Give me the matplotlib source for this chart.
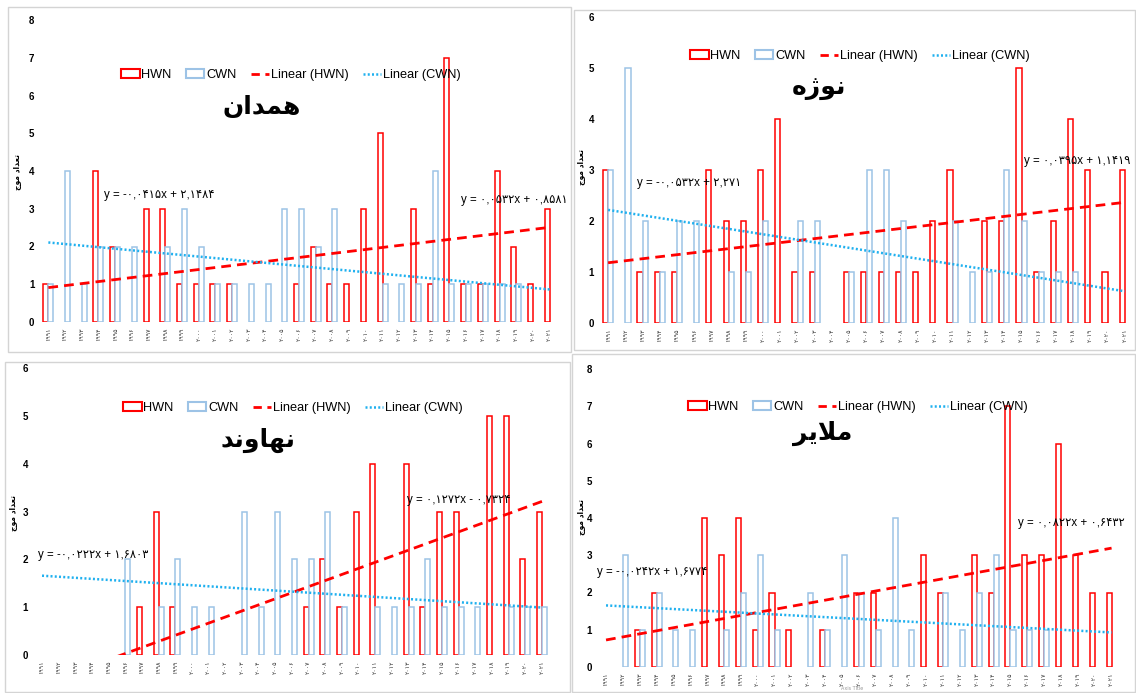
import numpy as np
import matplotlib
matplotlib.use("Agg")
import matplotlib.pyplot as plt
from matplotlib.patches import Rectangle, Patch
from matplotlib.lines import Line2D
from matplotlib import font_manager

# ── Data: yearly counts of heat waves (HWN) and cold waves (CWN) ──
years = list(range(1991, 2022))

hamedan_hwn = [1, 0, 0, 4, 2, 0, 3, 3, 1, 1, 1, 1, 0, 0, 0, 1, 2, 1, 1, 3, 5, 0, 3, 1, 7, 1, 1, 4, 2, 1, 3]
hamedan_cwn = [1, 4, 1, 2, 2, 2, 0, 2, 3, 2, 1, 1, 1, 1, 3, 3, 2, 3, 0, 0, 1, 1, 1, 4, 1, 1, 1, 1, 1, 0, 0]

nowzhe_hwn = [3, 0, 1, 1, 1, 0, 3, 2, 2, 3, 4, 1, 1, 0, 1, 1, 1, 1, 1, 2, 3, 0, 2, 2, 5, 1, 2, 4, 3, 1, 3]
nowzhe_cwn = [3, 5, 2, 1, 2, 2, 0, 1, 1, 2, 0, 2, 2, 0, 1, 3, 3, 2, 0, 0, 2, 1, 1, 3, 2, 1, 1, 1, 0, 0, 0]

nan = np.nan
nahavand_hwn = [nan] * 5 + [0, 1, 3, 1, 0, 0, 0, 0, 0, 0, 0, 1, 2, 1, 3, 4, 0, 4, 1, 3, 3, 0, 5, 5, 2, 3]
nahavand_cwn = [nan] * 5 + [2, 0, 1, 2, 1, 1, 0, 3, 1, 3, 2, 2, 3, 1, 0, 1, 1, 1, 2, 1, 1, 1, 0, 1, 1, 1]

malayer_hwn = [0, 0, 1, 2, 0, 0, 4, 3, 4, 1, 2, 1, 0, 1, 0, 2, 2, 0, 0, 3, 2, 0, 3, 2, 7, 3, 3, 6, 3, 2, 2]
malayer_cwn = [0, 3, 1, 2, 1, 1, 0, 1, 2, 3, 1, 0, 2, 1, 3, 2, 1, 4, 1, 0, 2, 1, 2, 3, 1, 1, 1, 0, 0, 0, 0]

# linear trend (slope, intercept) per station
hamedan_trend = {"HWN": (0.0532, 0.8581), "CWN": (-0.0415, 2.1484)}
nowzhe_trend = {"HWN": (0.0395, 1.1419), "CWN": (-0.0532, 2.271)}
nahavand_trend = {"HWN": (0.1272, -0.7324), "CWN": (-0.0222, 1.6803)}
malayer_trend = {"HWN": (0.0822, 0.6432), "CWN": (-0.0242, 1.6774)}

station_names = ["همدان", "نوژه", "نهاوند", "ملایر"]
ylabel_text = "تعداد موج"

# ── Persian text helpers (manual shaping, matplotlib has no bidi) ──
FA_DIGITS = str.maketrans("0123456789.", "۰۱۲۳۴۵۶۷۸۹,")

FORMS = {  # isolated, final, initial, medial
    "ا": ("\uFE8D", "\uFE8E", None, None),
    "د": ("\uFEA9", "\uFEAA", None, None),
    "ر": ("\uFEAD", "\uFEAE", None, None),
    "ژ": ("\uFB8A", "\uFB8B", None, None),
    "و": ("\uFEED", "\uFEEE", None, None),
    "ه": ("\uFEE9", "\uFEEA", "\uFEEB", "\uFEEC"),
    "م": ("\uFEE1", "\uFEE2", "\uFEE3", "\uFEE4"),
    "ن": ("\uFEE5", "\uFEE6", "\uFEE7", "\uFEE8"),
    "ل": ("\uFEDD", "\uFEDE", "\uFEDF", "\uFEE0"),
    "ی": ("\uFBFC", "\uFBFD", "\uFBFE", "\uFBFF"),
    "ت": ("\uFE95", "\uFE96", "\uFE97", "\uFE98"),
    "ع": ("\uFEC9", "\uFECA", "\uFECB", "\uFECC"),
    "ج": ("\uFE9D", "\uFE9E", "\uFE9F", "\uFEA0"),
}


def shape(text):
    out = []
    prev_joins = False
    i = 0
    while i < len(text):
        ch = text[i]
        if ch == "ل" and i + 1 < len(text) and text[i + 1] == "ا":
            out.append("\uFEFC" if prev_joins else "\uFEFB")
            prev_joins = False
            i += 2
            continue
        forms = FORMS.get(ch)
        if forms is None:
            out.append(ch)
            prev_joins = False
            i += 1
            continue
        nxt = text[i + 1] if i + 1 < len(text) else ""
        next_joins = forms[2] is not None and nxt in FORMS
        iso, fin, ini, med = forms
        if prev_joins and next_joins:
            g = med
        elif prev_joins:
            g = fin
        elif next_joins:
            g = ini
        else:
            g = iso
        out.append(g)
        prev_joins = next_joins
        i += 1
    return "".join(reversed(out))


def eq_label(m, b):
    sign = "+" if b >= 0 else "-"
    return f"y = {m:g}x {sign} {abs(b):g}".translate(FA_DIGITS)


installed = {f.name for f in font_manager.fontManager.ttflist}
base = "Liberation Sans Narrow" if "Liberation Sans Narrow" in installed else "Liberation Sans"
FAM = [base, "DejaVu Sans"]

RED = "#ff0000"
BLUE = "#9dc3e6"
CYAN = "#1fb0ef"

W, H = 1136, 693
fig = plt.figure(figsize=(W / 100, H / 100), dpi=100)

# panel layout in pixels: frame box, plot box (left, right, y0, ytop), text anchors
panels = [
    dict(hwn=hamedan_hwn, cwn=hamedan_cwn, trend=hamedan_trend, ymax=8,
         frame=(8, 7, 571, 352), plot=(40, 558, 322, 20),
         legend=(291, 75), title=(262, 107), ylab=(17, 172),
         eq_c=(104, 195), eq_h=(461, 200)),
    dict(hwn=nowzhe_hwn, cwn=nowzhe_cwn, trend=nowzhe_trend, ymax=6,
         frame=(574, 10, 1135, 350), plot=(599.5, 1133.5, 323, 17),
         legend=(860, 56), title=(819, 88), ylab=(581, 167),
         eq_c=(637, 183), eq_h=(1024, 161)),
    dict(hwn=nahavand_hwn, cwn=nahavand_cwn, trend=nahavand_trend, ymax=6,
         frame=(5, 362, 570, 692), plot=(33.7, 550.3, 655, 368),
         legend=(293, 408), title=(258, 440), ylab=(14, 513),
         eq_c=(38, 555), eq_h=(407, 500)),
    dict(hwn=malayer_hwn, cwn=malayer_cwn, trend=malayer_trend, ymax=8,
         frame=(572, 354, 1135, 692), plot=(597.6, 1120, 667, 369),
         legend=(858, 407), title=(823, 433), ylab=(581, 517),
         eq_c=(597, 572), eq_h=(1018, 523)),
]

x = np.arange(1, len(years) + 1)
bw = 0.3
year_labels = [str(y).translate(FA_DIGITS) for y in years]

for p, name in zip(panels, station_names):
    fx0, fy0, fx1, fy1 = p["frame"]
    fig.patches.append(Rectangle((fx0 / W, 1 - fy1 / H), (fx1 - fx0) / W, (fy1 - fy0) / H,
                                 transform=fig.transFigure, fill=False,
                                 edgecolor="#d4d4d4", linewidth=1.0))

    left, right, y0, ytop = p["plot"]
    ax = fig.add_axes([left / W, 1 - y0 / H, (right - left) / W, (y0 - ytop) / H])
    ax.patch.set_alpha(0)

    hwn = np.array(p["hwn"], dtype=float)
    cwn = np.array(p["cwn"], dtype=float)
    mh = np.nan_to_num(hwn) > 0
    mc = np.nan_to_num(cwn) > 0
    ax.bar(x[mh] - bw / 2, hwn[mh], bw, facecolor="white", edgecolor=RED,
           linewidth=1.1, zorder=2)
    ax.bar(x[mc] + bw / 2, cwn[mc], bw, facecolor="white", edgecolor=BLUE,
           linewidth=1.1, zorder=2)

    mH, bH = p["trend"]["HWN"]
    mC, bC = p["trend"]["CWN"]
    ax.plot(x, mH * x + bH, color=RED, linewidth=2.0, dashes=(3.5, 2.2), zorder=3)
    ax.plot(x, mC * x + bC, color=CYAN, linewidth=1.8, dashes=(0.8, 0.9), zorder=3)

    ax.set_xlim(0.5, len(years) + 0.5)
    ax.set_ylim(0, p["ymax"])
    ax.set_yticks(range(0, p["ymax"] + 1))
    ax.set_xticks(x)
    ax.set_xticklabels(year_labels, rotation=90, fontsize=4.5, family="DejaVu Sans",
                       color="#333333")
    for lab in ax.get_yticklabels():
        lab.set_family(FAM)
        lab.set_fontsize(7)
        lab.set_fontweight("bold")
    ax.tick_params(axis="both", length=0, pad=4)
    for s in ax.spines.values():
        s.set_visible(False)

    handles = [
        Patch(facecolor="white", edgecolor=RED, linewidth=1.5, label="HWN"),
        Patch(facecolor="white", edgecolor=BLUE, linewidth=1.5, label="CWN"),
        Line2D([], [], color=RED, linewidth=2.0, dashes=(3.0, 2.0), label="Linear (HWN)"),
        Line2D([], [], color=CYAN, linewidth=1.8, dashes=(0.8, 0.9), label="Linear (CWN)"),
    ]
    lx, ly = p["legend"]
    ax.legend(handles=handles, loc="center", bbox_to_anchor=(lx / W, 1 - ly / H),
              bbox_transform=fig.transFigure, ncol=4, frameon=False,
              handlelength=1.45, handletextpad=0.15, columnspacing=1.1,
              prop={"family": FAM, "size": 9.2})

    tx, ty = p["title"]
    fig.text(tx / W, 1 - ty / H, shape(name), ha="center", va="center",
             fontsize=18, fontweight="bold", family="DejaVu Sans")

    yx, yy = p["ylab"]
    fig.text(yx / W, 1 - yy / H, shape(ylabel_text), rotation=90, ha="center",
             va="center", fontsize=5.5, fontweight="bold", family="DejaVu Sans")

    ex, ey = p["eq_c"]
    fig.text(ex / W, 1 - ey / H, eq_label(mC, bC), ha="left", va="center",
             fontsize=8.3, family=FAM)
    ex, ey = p["eq_h"]
    fig.text(ex / W, 1 - ey / H, eq_label(mH, bH), ha="left", va="center",
             fontsize=8.3, family=FAM)

fig.text(852 / W, 1 - 689 / H, "Axis Title", ha="center", va="center",
         fontsize=3.5, color="#999999")

fig.savefig("out.png", dpi=100)
